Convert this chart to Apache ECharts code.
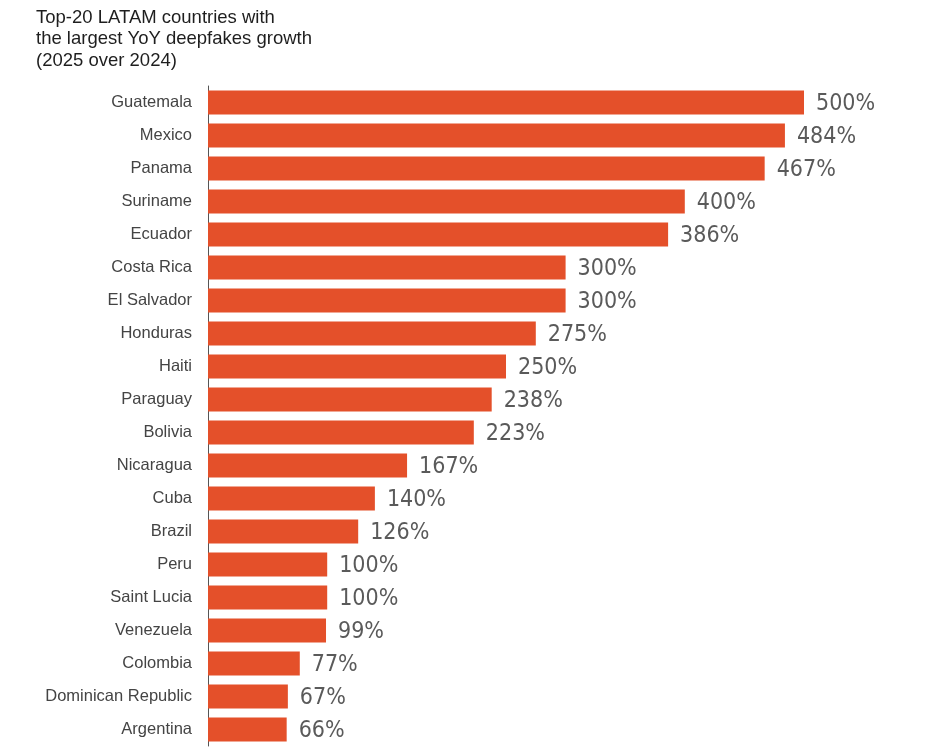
<!DOCTYPE html>
<html lang="en">
<head>
    <meta charset="UTF-8">
    <title>LATAM deepfakes growth</title>
    <style>
        body {
            margin: 0;
            font-family: Arial, sans-serif;
            background: #ffffff;
        }
    </style>
</head>
<body>
<div id="chart-canvas" style="width: 928px;height:756px;"></div>
</body>
<script src="https://cdn.jsdelivr.net/npm/echarts@6/dist/echarts.min.js"></script>
<script type="text/javascript">
    const countries = ["Guatemala", "Mexico", "Panama", "Suriname", "Ecuador", "Costa Rica", "El Salvador",
        "Honduras", "Haiti", "Paraguay", "Bolivia", "Nicaragua", "Cuba", "Brazil", "Peru", "Saint Lucia",
        "Venezuela", "Colombia", "Dominican Republic", "Argentina"]
    const growth = [500, 484, 467, 400, 386, 300, 300, 275, 250, 238, 223, 167, 140, 126, 100, 100, 99, 77, 67, 66]

    let myChart = echarts.init(document.getElementById('chart-canvas'));
    myChart.setOption({
        animation: false,
        title: {
            text: 'Top-20 LATAM countries with\nthe largest YoY deepfakes growth\n(2025 over 2024)',
            left: 36,
            top: 7,
            padding: 0,
            textStyle: {
                fontFamily: 'Liberation Sans',
                fontSize: 18.5,
                fontWeight: 'normal',
                color: '#1e1e1e',
                lineHeight: 21.5
            }
        },
        grid: {
            left: 208,
            right: 124,
            top: 86,
            bottom: 10
        },
        xAxis: {
            type: 'value',
            min: 0,
            max: 500,
            show: false
        },
        yAxis: {
            type: 'category',
            inverse: true,
            data: countries,
            axisLine: {lineStyle: {color: '#555', width: 1}},
            axisTick: {show: false},
            axisLabel: {
                margin: 16,
                fontFamily: 'Liberation Sans',
                fontSize: 16.5,
                color: '#444'
            }
        },
        series: [{
            type: 'bar',
            data: growth,
            barWidth: 24,
            itemStyle: {color: '#E4502A'},
            label: {
                show: true,
                position: 'right',
                distance: 12,
                offset: [0, 2],
                formatter: '{c}%',
                fontFamily: '"DejaVu Sans Condensed", "Roboto Condensed", "DejaVu Sans", sans-serif',
                fontSize: 23,
                color: '#5a5a5a'
            }
        }]
    });
</script>
</html>
